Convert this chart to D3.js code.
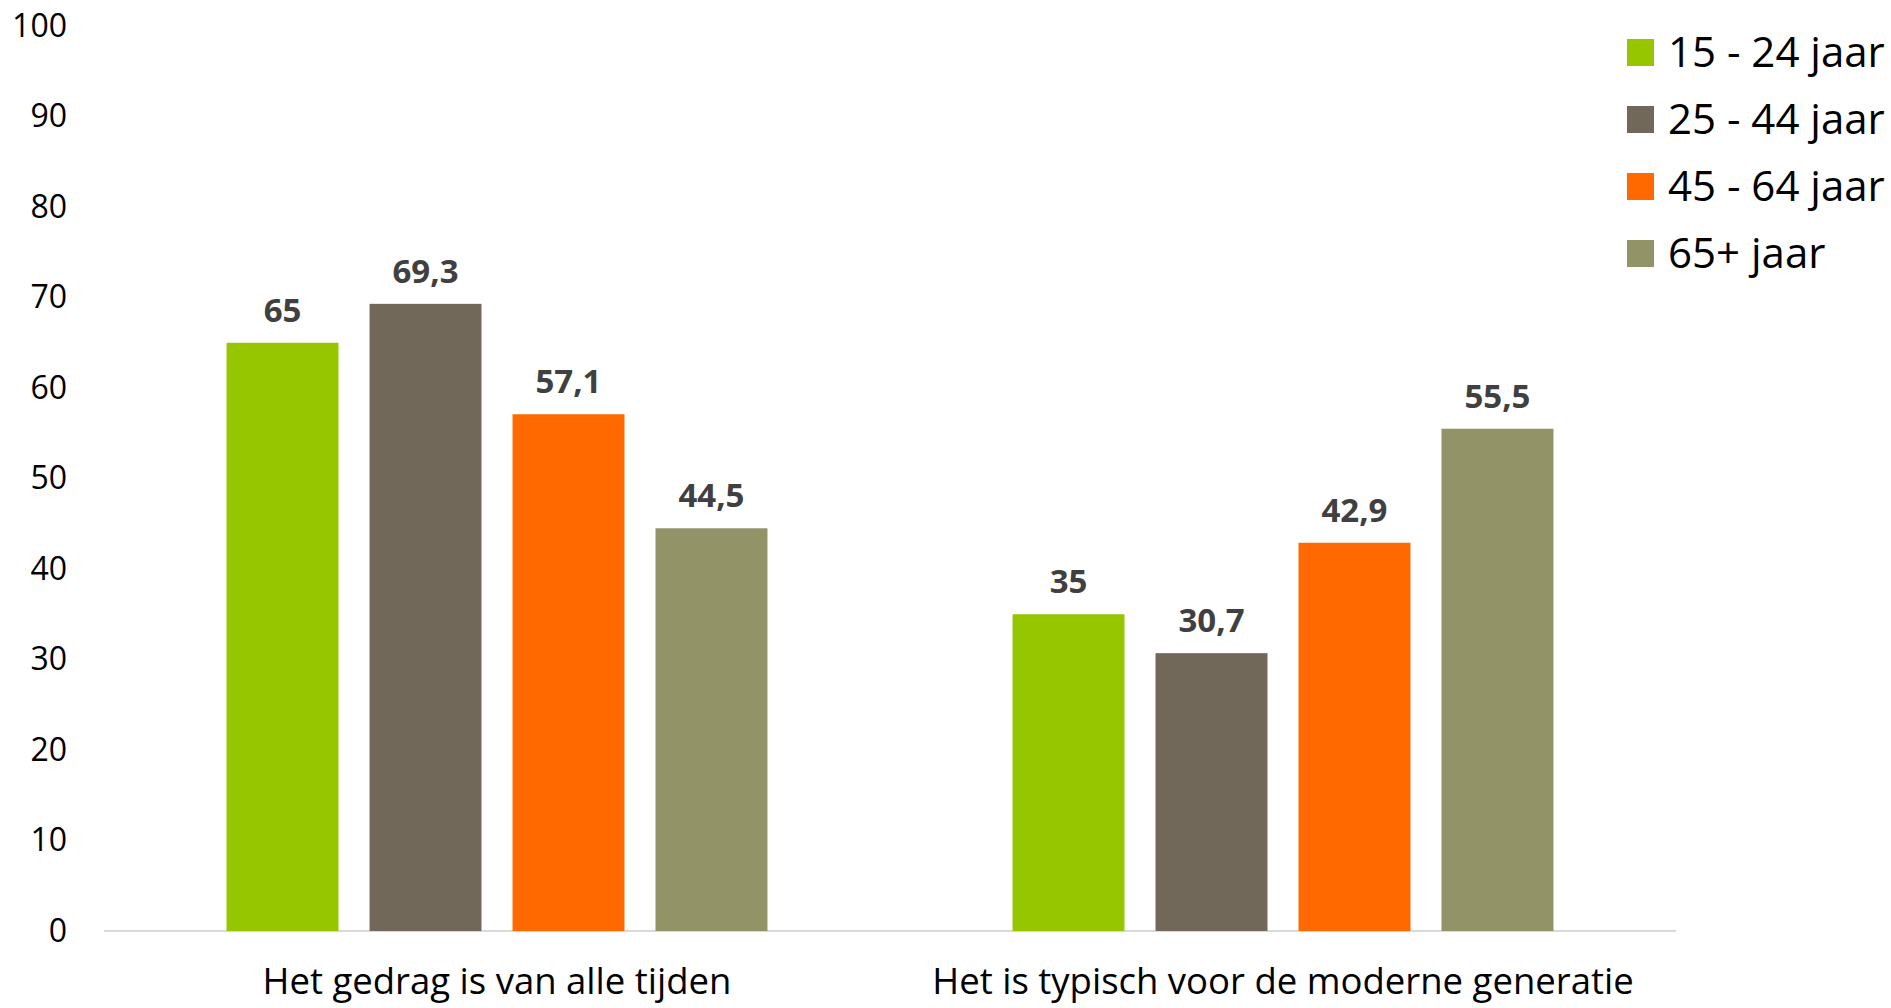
<!DOCTYPE html>
<html>
<head>
<meta charset="utf-8">
<script src="https://cdn.jsdelivr.net/npm/d3@7"></script>
<style>
  body { margin: 0; background: #fff; }
  text { font-family: "Open Sans", sans-serif; }
</style>
</head>
<body>
<div id="app"></div>
<script>
const categories = ["Het gedrag is van alle tijden", "Het is typisch voor de moderne generatie"]
const series = ["15 - 24 jaar", "25 - 44 jaar", "45 - 64 jaar", "65+ jaar"]
const values = [
    [65, 35],
    [69.3, 30.7],
    [57.1, 42.9],
    [44.5, 55.5]
]
const yTicks = [0, 10, 20, 30, 40, 50, 60, 70, 80, 90, 100]
const colors = ["#96c600", "#72685a", "#ff6900", "#929366"]

const width = 1891, height = 1008
const margin = { left: 104, top: 26, right: 215, bottom: 77 }
const bounds = {
    width: width - margin.left - margin.right,
    height: height - margin.top - margin.bottom
}

const svg = d3.select('#app')
    .append('svg')
    .attr('width', width)
    .attr('height', height)
    .append('g')
    .attr('transform', `translate(${margin.left},${margin.top})`)

// scales
const x0 = d3.scaleBand()
    .domain(categories)
    .range([0, bounds.width])
const x1 = d3.scaleBand()
    .domain(series)
    .range([0, x0.bandwidth()])
    .paddingInner(0.217)
    .paddingOuter(0.857)
const yScale = d3.scaleLinear()
    .domain([0, 100])
    .range([bounds.height, 0])

// y axis (labels only)
const yAxis = svg.append('g')
    .call(d3.axisLeft(yScale).tickValues(yTicks).tickSize(0).tickPadding(37))
yAxis.select('.domain').remove()
yAxis.selectAll('text')
    .attr('fill', '#000')
    .style('font-size', '32px')
    .style('font-family', '"Open Sans", sans-serif')

// baseline
svg.append('line')
    .attr('x1', 0)
    .attr('x2', bounds.width)
    .attr('y1', yScale(0))
    .attr('y2', yScale(0))
    .attr('stroke', '#d9d9d9')
    .attr('stroke-width', 2)

// x axis labels
const xAxis = svg.append('g')
    .attr('transform', `translate(0,${bounds.height})`)
    .call(d3.axisBottom(x0).tickSize(0).tickPadding(37))
xAxis.select('.domain').remove()
xAxis.selectAll('text')
    .attr('fill', '#000')
    .style('font-size', '36.5px')
    .style('font-family', '"Open Sans", sans-serif')

// bars
const rows = []
series.forEach((s, i) => {
    categories.forEach((c, j) => {
        rows.push({ series: s, category: c, value: values[i][j], color: colors[i] })
    })
})

svg.selectAll('.bar')
    .data(rows)
    .join('rect')
    .classed('bar', true)
    .attr('x', d => x0(d.category) + x1(d.series))
    .attr('y', d => yScale(d.value))
    .attr('width', x1.bandwidth())
    .attr('height', d => yScale(0) - yScale(d.value))
    .attr('fill', d => d.color)

svg.selectAll('.val')
    .data(rows)
    .join('text')
    .classed('val', true)
    .attr('x', d => x0(d.category) + x1(d.series) + x1.bandwidth() / 2)
    .attr('y', d => yScale(d.value) - 21)
    .attr('text-anchor', 'middle')
    .attr('fill', '#404040')
    .style('font-size', '33px')
    .style('font-weight', 'bold')
    .text(d => String(d.value).replace('.', ','))

// legend
const legend = d3.select('svg').append('g')
    .attr('transform', 'translate(1627,39)')
const item = legend.selectAll('g')
    .data(series)
    .join('g')
    .attr('transform', (d, i) => `translate(0,${i * 67})`)
item.append('rect')
    .attr('width', 27)
    .attr('height', 27)
    .attr('fill', (d, i) => colors[i])
item.append('text')
    .attr('x', 41)
    .attr('y', 13.5)
    .attr('dy', '0.35em')
    .attr('fill', '#000')
    .style('font-size', '42px')
    .text(d => d)
</script>
</body>
</html>
